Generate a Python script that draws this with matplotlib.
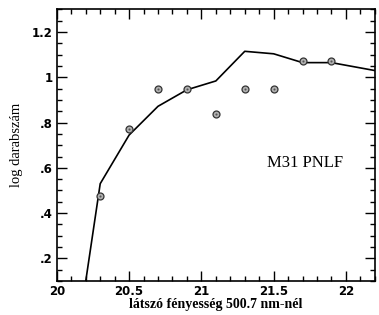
import matplotlib
matplotlib.use("Agg")
import matplotlib.pyplot as plt
from matplotlib.ticker import MultipleLocator, FixedLocator

# Model curve
line_x = [20.2, 20.3, 20.5, 20.7, 20.9, 21.1, 21.3, 21.5, 21.7, 21.9, 22.2]
line_y = [0.10, 0.53, 0.745, 0.872, 0.945, 0.984, 1.115, 1.104, 1.065, 1.065, 1.03]

# Observed points
pts_x = [20.3, 20.5, 20.7, 20.9, 21.1, 21.3, 21.5, 21.7, 21.9]
pts_y = [0.475, 0.77, 0.947, 0.947, 0.837, 0.947, 0.947, 1.072, 1.072]

xticks = [20, 20.5, 21, 21.5, 22]
xticklabels = ["20", "20.5", "21", "21.5", "22"]
yticks = [0.2, 0.4, 0.6, 0.8, 1.0, 1.2]
yticklabels = [".2", ".4", ".6", ".8", "1", "1.2"]

fig = plt.figure(figsize=(3.79, 3.15), dpi=100)
ax = fig.add_axes([0.150, 0.108, 0.839, 0.862])

ax.plot(line_x, line_y, color="black", lw=1.2, zorder=2)
ax.plot(pts_x, pts_y, linestyle="none", marker="o", markersize=5,
        markerfacecolor="#b0b0b0", markeredgecolor="#333333",
        markeredgewidth=0.9, zorder=3)
ax.plot(pts_x, pts_y, linestyle="none", marker="o", markersize=1.5,
        markerfacecolor="#555555", markeredgecolor="none", zorder=4)

ax.set_xlim(20, 22.2)
ax.set_ylim(0.1, 1.3)
ax.xaxis.set_major_locator(FixedLocator(xticks))
ax.set_xticklabels(xticklabels)
ax.yaxis.set_major_locator(FixedLocator(yticks))
ax.set_yticklabels(yticklabels)
ax.xaxis.set_minor_locator(MultipleLocator(0.1))
ax.yaxis.set_minor_locator(MultipleLocator(0.05))

ax.tick_params(which="both", direction="in", top=True, right=True,
               width=1.0, labelsize=8.5)
ax.tick_params(axis="x", which="major", pad=3)
ax.tick_params(axis="y", which="major", pad=3)
ax.tick_params(which="major", length=7)
ax.tick_params(which="minor", length=3.5)
for lab in ax.get_xticklabels() + ax.get_yticklabels():
    lab.set_fontfamily("DejaVu Sans")
    lab.set_fontweight("bold")
for s in ax.spines.values():
    s.set_linewidth(1.2)

ax.set_xlabel("látszó fényesség 500.7 nm-nél", family="Liberation Serif",
              fontsize=10, fontweight="bold", labelpad=0)
ax.set_ylabel("log darabszám", family="Liberation Serif",
              fontsize=10.5, labelpad=6)
ax.text(21.72, 0.62, "M31 PNLF", family="Liberation Serif", fontsize=12,
        ha="center", va="center")

fig.savefig("out.png", dpi=100)
